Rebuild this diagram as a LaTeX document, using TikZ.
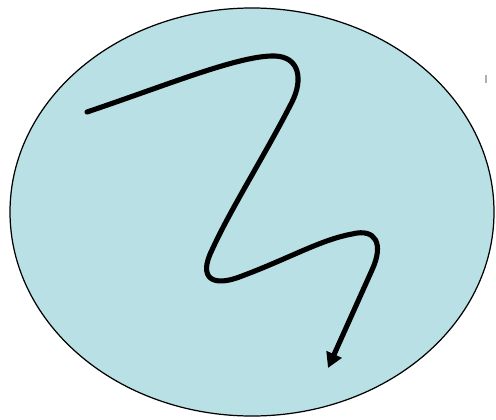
\documentclass[tikz,border=0pt]{standalone}
\usepackage{tikz}
\usetikzlibrary{arrows.meta}
\usepackage{xcolor}
\definecolor{poolcyan}{RGB}{185,224,228}
\definecolor{tickgray}{RGB}{175,175,175}

\begin{document}
\begin{tikzpicture}[
    x=0.02cm, y=-0.02cm,
    pool/.style={draw=black, fill=poolcyan, line width=0.7pt},
    wander/.style={-{Triangle[length=0.3cm, width=0.32cm]}, line width=2.9pt, black, line cap=round, line join=round},
]
    \useasboundingbox (0,0) rectangle (496,419);

    % Region (ellipse)
    \draw[pool] (252,212) ellipse [x radius=242, y radius=204];

    % Zig-zag path with arrow
    \draw[wander] (87,112) .. controls (170,84) and (240,55) .. (275,56)
        .. controls (300,57) and (303,80) .. (292,102)
        .. controls (265,155) and (230,210) .. (212,250)
        .. controls (198,278) and (212,288) .. (242,276)
        .. controls (290,258) and (320,240) .. (352,234)
        .. controls (376,228) and (384,244) .. (372,270)
        -- (328,368);

    % small mark at right
    \draw[tickgray, line width=1.2pt] (486,75) -- (486,83);
\end{tikzpicture}
\end{document}
